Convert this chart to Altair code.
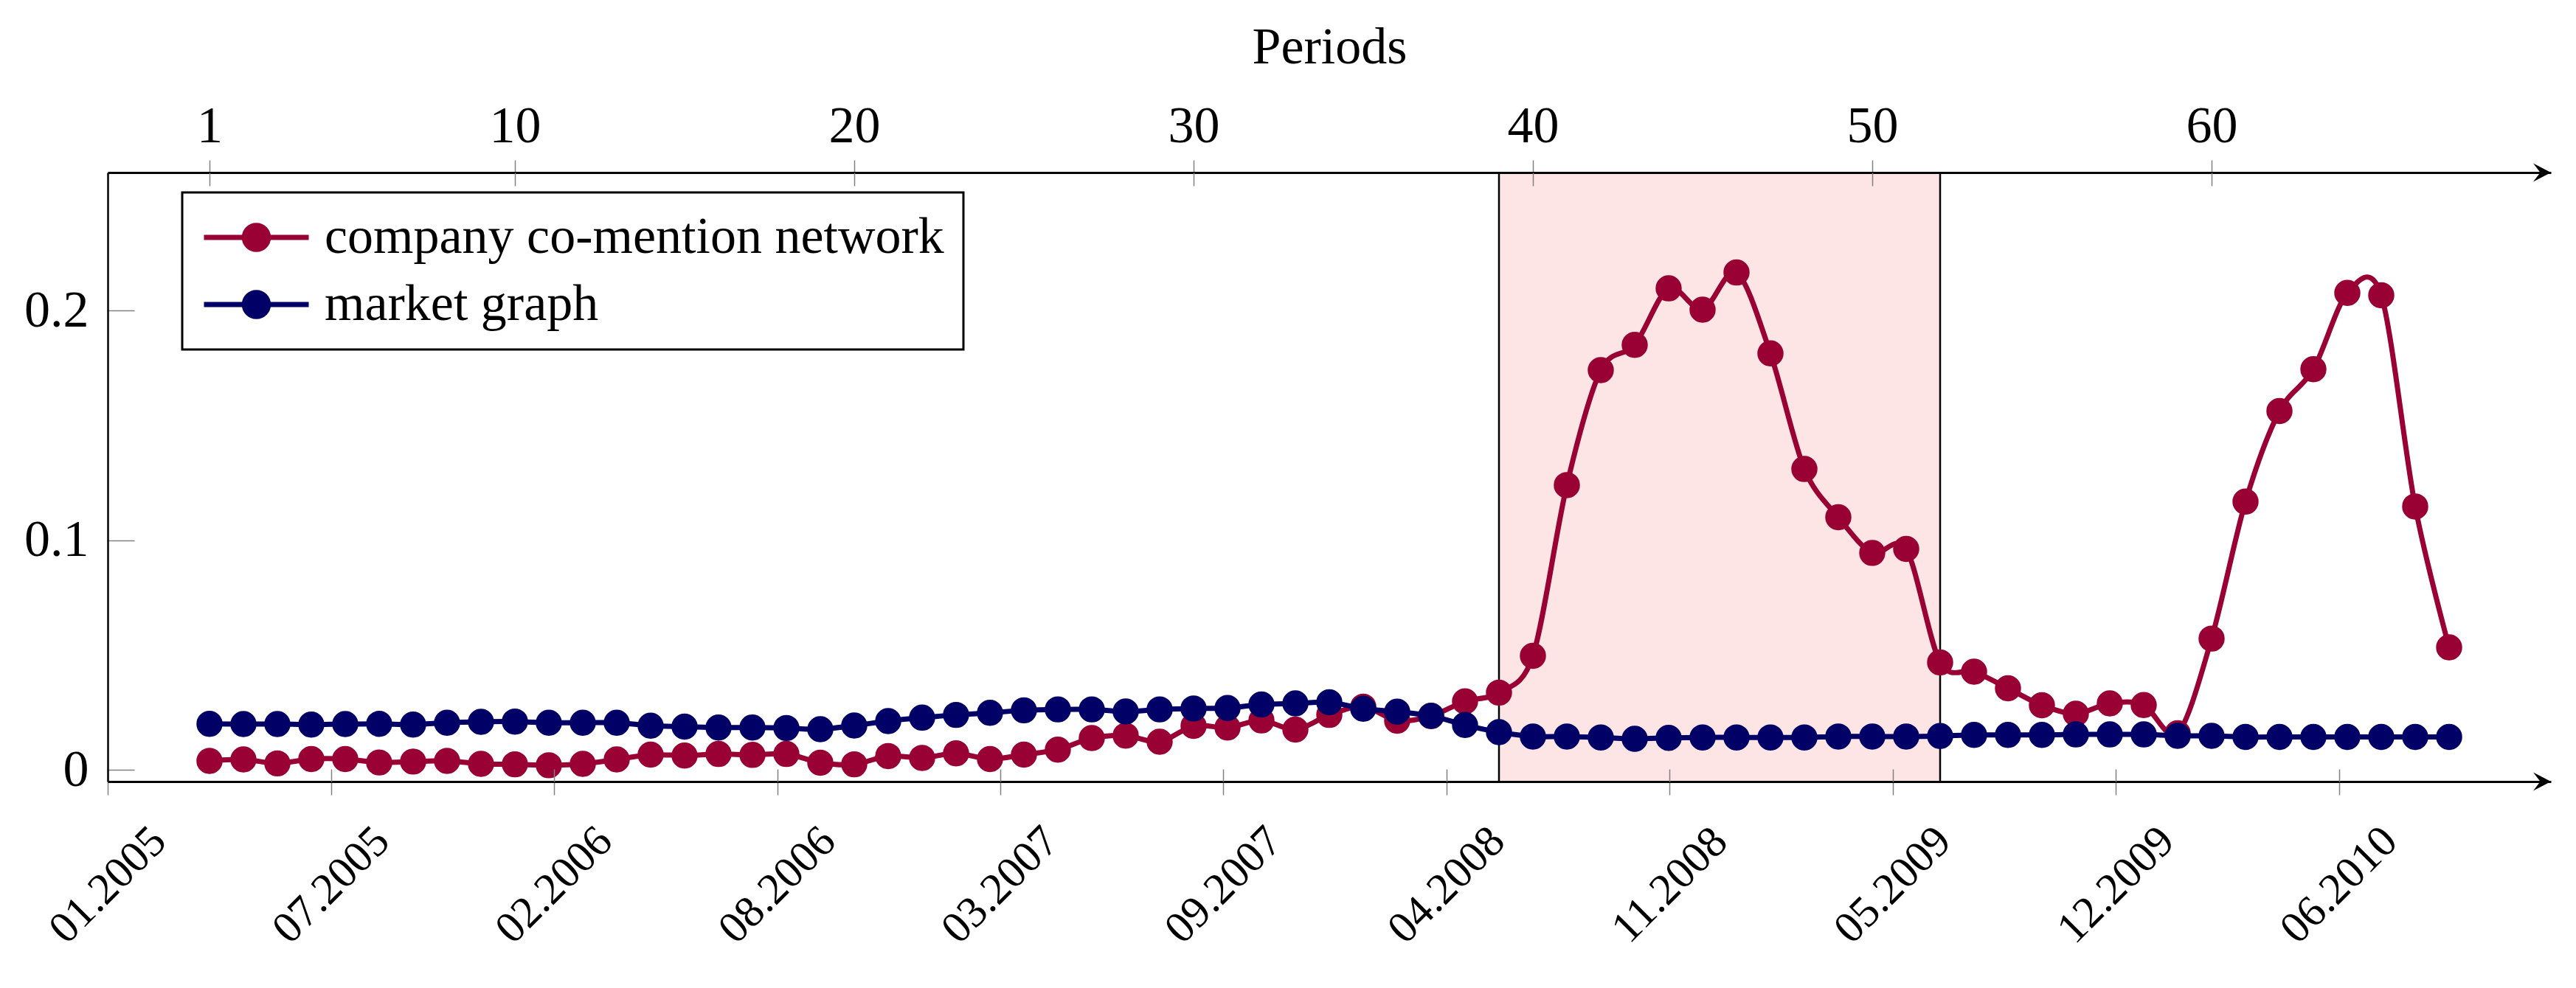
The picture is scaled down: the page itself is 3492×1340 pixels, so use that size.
import json
import altair as alt
import pandas as pd

# ---------------- data ----------------
periods = list(range(1, 68))
co_mention = [
    0.0040, 0.0046, 0.0029, 0.0048, 0.0048, 0.0033, 0.0037, 0.0040, 0.0027, 0.0025,
    0.0021, 0.0027, 0.0046, 0.0067, 0.0063, 0.0070, 0.0066, 0.0070, 0.0032, 0.0025,
    0.0061, 0.0053, 0.0073, 0.0048, 0.0067, 0.0089, 0.0139, 0.0150, 0.0123, 0.0192,
    0.0185, 0.0216, 0.0176, 0.0240, 0.0276, 0.0215, 0.0235, 0.0299, 0.0337, 0.0497,
    0.1240, 0.1740, 0.1850, 0.2096, 0.2003, 0.2165, 0.1813, 0.1310, 0.1100, 0.0945,
    0.0962, 0.0468, 0.0428, 0.0356, 0.0282, 0.0245, 0.0290, 0.0283, 0.0160, 0.0572,
    0.1168, 0.1562, 0.1744, 0.2076, 0.2066, 0.1147, 0.0534,
]
market = [
    0.0201, 0.0200, 0.0200, 0.0198, 0.0200, 0.0201, 0.0198, 0.0206, 0.0210, 0.0211,
    0.0206, 0.0206, 0.0206, 0.0193, 0.0189, 0.0185, 0.0185, 0.0183, 0.0178, 0.0194,
    0.0213, 0.0228, 0.0240, 0.0249, 0.0260, 0.0264, 0.0264, 0.0255, 0.0264, 0.0268,
    0.0270, 0.0285, 0.0290, 0.0295, 0.0267, 0.0254, 0.0236, 0.0196, 0.0165, 0.0146,
    0.0146, 0.0142, 0.0136, 0.0140, 0.0142, 0.0142, 0.0142, 0.0142, 0.0146, 0.0146,
    0.0146, 0.0148, 0.0153, 0.0153, 0.0153, 0.0155, 0.0155, 0.0155, 0.0149, 0.0149,
    0.0144, 0.0144, 0.0144, 0.0144, 0.0144, 0.0144, 0.0144,
]
series_names = ["company co-mention network", "market graph"]
series_colors = ["#990033", "#000066"]

period_ticks = [1, 10, 20, 30, 40, 50, 60]
date_tick_pos = [-2, 4.58, 11.15, 17.73, 24.3, 30.88, 37.45, 44.03, 50.6, 57.18, 63.75]
date_labels = ["01.2005", "07.2005", "02.2006", "08.2006", "03.2007", "09.2007",
               "04.2008", "11.2008", "05.2009", "12.2009", "06.2010"]
y_ticks = [0, 0.1, 0.2]
shade_start = [39]
shade_end = [52]
x_domain = [-2, 70]
y_domain = [-0.005, 0.26]

# ---------------- style ----------------
FONT = "Liberation Serif"
FS = 70
FS_DATE = 60
TICK = "#808080"
W, H = 3312, 826

df = pd.DataFrame({
    "period": periods + periods,
    "value": co_mention + market,
    "series": [series_names[0]] * len(periods) + [series_names[1]] * len(periods),
})
shade_df = pd.DataFrame({"start": shade_start, "end": shade_end})
edges_df = pd.DataFrame({"edge": shade_start + shade_end})
arrow_df = pd.DataFrame({"ax": [x_domain[1], x_domain[1]], "ay": [y_domain[1], y_domain[0]]})

xs = alt.Scale(domain=x_domain, nice=False, zero=False)
ys = alt.Scale(domain=y_domain, nice=False, zero=False)
cs = alt.Scale(domain=series_names, range=series_colors)

label_expr = json.dumps(date_labels) + "[round(datum.index*" + str(len(date_labels) - 1) + ")]"

ax_bottom = alt.Axis(orient="bottom", values=date_tick_pos, labelExpr=label_expr,
                     labelAngle=315, labelAlign="center", labelBaseline="middle",
                     labelPadding=122, tickSize=18, tickColor=TICK, tickWidth=1.5,
                     domainColor="black", domainWidth=3, grid=False, title=None,
                     labelFont=FONT, labelFontSize=FS_DATE, labelColor="black",
                     labelLimit=2000, labelFlush=False, labelOverlap=False, zindex=1)
ax_bottom_in = alt.Axis(orient="bottom", values=date_tick_pos, offset=-17, tickSize=17,
                        tickColor=TICK, tickWidth=1.5, labels=False, domain=False,
                        grid=False, title=None, zindex=1)
ax_top = alt.Axis(orient="top", values=period_ticks, tickSize=17, tickColor=TICK,
                  tickWidth=1.5, labelPadding=25, labelBaseline="alphabetic",
                  domainColor="black", domainWidth=3, grid=False, title="Periods",
                  titleFont=FONT, titleFontSize=FS, titleFontWeight="normal",
                  titleColor="black", titleY=-149, titleBaseline="alphabetic",
                  labelFont=FONT, labelFontSize=FS, labelColor="black",
                  labelLimit=2000, labelFlush=False, labelOverlap=False, zindex=1)
ax_top_in = alt.Axis(orient="top", values=period_ticks, offset=-18, tickSize=18,
                     tickColor=TICK, tickWidth=1.5, labels=False, domain=False,
                     grid=False, title=None, zindex=1)
ax_y = alt.Axis(orient="left", values=y_ticks, format="~g", offset=-36, tickSize=36,
                tickColor=TICK, tickWidth=1.5, domain=False, labelPadding=26,
                grid=False, title=None, labelFont=FONT, labelFontSize=FS,
                labelColor="black", labelLimit=2000, labelFlush=False, zindex=1)
ax_y_dom = alt.Axis(orient="left", values=y_ticks, ticks=False, labels=False,
                    domain=True, domainColor="black", domainWidth=2.5, grid=False,
                    title=None, zindex=1)

# legend symbol: a line with a dot, shifted right inside its nominal size box
LEG_PATH = ("M-1.016,0L3.565,0M1.797,0A0.523,0.523,0,1,1,0.751,0"
            "A0.523,0.523,0,1,1,1.797,0Z")


def make_legend():
    return alt.Legend(
        title=None, orient="none", legendX=101, legendY=27,
        symbolType=LEG_PATH, symbolSize=3844, symbolStrokeWidth=7, symbolOpacity=1,
        labelFont=FONT, labelFontSize=FS, labelColor="black", labelOffset=97,
        labelLimit=3000, rowPadding=21, padding=26, strokeColor="black",
        fillColor="white",
    )


rect = alt.Chart(shade_df).mark_rect(color="#fde5e5").encode(
    x=alt.X("start:Q", scale=xs, axis=ax_bottom), x2="end:Q")
rules = alt.Chart(edges_df).mark_rule(color="black", strokeWidth=2.5).encode(
    x=alt.X("edge:Q", scale=xs, axis=ax_top))


def series_layers(idx, x_axis, y_axis):
    base = alt.Chart(df).transform_filter(alt.datum.series == series_names[idx])
    line = base.mark_line(interpolate="cardinal", tension=0.08, strokeWidth=7,
                          color=series_colors[idx]).encode(
        x=alt.X("period:Q", scale=xs, axis=x_axis[0]),
        y=alt.Y("value:Q", scale=ys, axis=y_axis[0]),
    )
    pts = base.mark_point(filled=True, size=810, opacity=1, strokeWidth=7).encode(
        x=alt.X("period:Q", scale=xs, axis=x_axis[1]),
        y=alt.Y("value:Q", scale=ys, axis=y_axis[1]),
        fill=alt.Fill("series:N", scale=cs, legend=make_legend()),
        stroke=alt.Stroke("series:N", scale=cs, legend=make_legend()),
    )
    return line, pts


red_line, red_pts = series_layers(0, (ax_bottom_in, ax_top_in), (ax_y, ax_y_dom))
blue_line, blue_pts = series_layers(1, (None, None), (None, None))

ARROW = "M0,0L-2,-1.04L-1.2,0L-2,1.04Z"
arrows = alt.Chart(arrow_df).mark_point(shape=ARROW, size=576, filled=True,
                                        color="black", opacity=1).encode(
    x=alt.X("ax:Q", scale=xs, axis=None),
    y=alt.Y("ay:Q", scale=ys, axis=None),
)

chart = alt.layer(rect, rules, red_line, red_pts, blue_line, blue_pts, arrows).resolve_axis(
    x="independent", y="independent"
).properties(
    width=W, height=H,
    autosize=alt.AutoSizeParams(type="none"),
    padding={"left": 138, "top": 226, "right": 20, "bottom": 250},
).configure_view(strokeWidth=0).configure_legend(strokeWidth=3)

chart.save("out.html", embed_options={"renderer": "svg", "actions": False})
